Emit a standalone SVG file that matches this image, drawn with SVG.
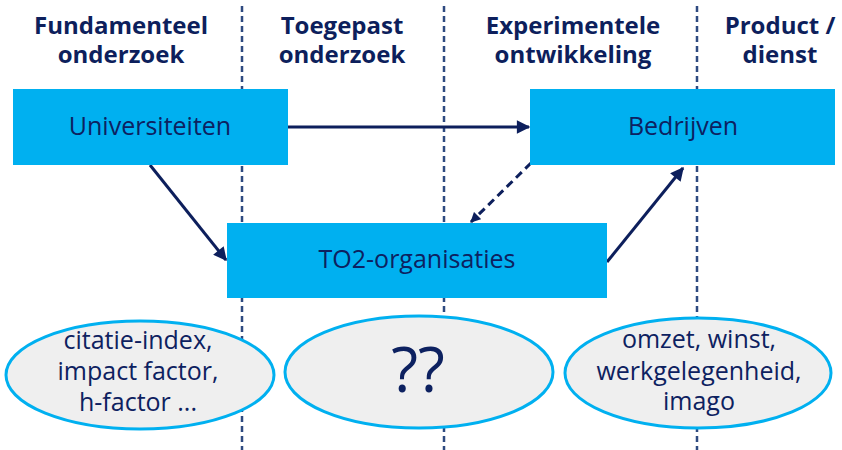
<svg xmlns="http://www.w3.org/2000/svg" width="842" height="450" viewBox="0 0 842 450">
<style>
.hdr{font-family:"Open Sans","Liberation Sans",sans-serif;font-weight:bold;font-size:24px;fill:#0D1F5C;text-anchor:middle}
.box{fill:#00B0F0}
.lbl{font-family:"Open Sans","Liberation Sans",sans-serif;font-size:25px;fill:#0D2160;text-anchor:middle}
.ell{fill:#EFEFEF;stroke:#00B0F0;stroke-width:3}
.sep{stroke:#2E4A80;stroke-width:2.5;stroke-dasharray:6,4;fill:none}
.arr{stroke:#0D1F5C;stroke-width:3;fill:none}
</style>
<defs>
<marker id="ah" viewBox="0 0 10 10" refX="9" refY="5" markerWidth="4.8" markerHeight="4.5" orient="auto" markerUnits="strokeWidth">
<path d="M0,0 L10,5 L0,10 z" fill="#0D1F5C"/>
</marker>
<marker id="ah2" viewBox="0 0 10 10" refX="9" refY="5" markerWidth="3.6" markerHeight="3.4" orient="auto" markerUnits="strokeWidth">
<path d="M0,0 L10,5 L0,10 z" fill="#0D1F5C"/>
</marker>
</defs>
<rect width="842" height="450" fill="#FFFFFF"/>
<g id="separators">
<line class="sep" x1="242" y1="6" x2="242" y2="450"/>
<line class="sep" x1="444" y1="6" x2="444" y2="450"/>
<line class="sep" x1="697" y1="6" x2="697" y2="450"/>
</g>
<g id="headers">
<text class="hdr" x="121" y="34">Fundamenteel</text>
<text class="hdr" x="121" y="63">onderzoek</text>
<text class="hdr" x="342" y="34">Toegepast</text>
<text class="hdr" x="342" y="63">onderzoek</text>
<text class="hdr" x="573" y="34">Experimentele</text>
<text class="hdr" x="573" y="63">ontwikkeling</text>
<text class="hdr" x="780" y="34">Product /</text>
<text class="hdr" x="780" y="63">dienst</text>
</g>
<g id="connectors">
<line class="arr" x1="288" y1="127" x2="529" y2="127" marker-end="url(#ah)"/>
<line class="arr" x1="150" y1="165" x2="226" y2="260" marker-end="url(#ah)"/>
<line class="arr" x1="607" y1="262" x2="683" y2="168" marker-end="url(#ah)"/>
<line class="arr" x1="531" y1="163" x2="471" y2="222" stroke-width="4.5" stroke-dasharray="8,5" marker-end="url(#ah2)"/>
</g>
<g id="universiteiten">
<rect class="box" x="13" y="89" width="275" height="76"/>
<text class="lbl" x="150" y="135">Universiteiten</text>
</g>
<g id="bedrijven">
<rect class="box" x="530" y="89" width="305" height="76"/>
<text class="lbl" x="683" y="135">Bedrijven</text>
</g>
<g id="to2">
<rect class="box" x="227" y="223" width="380" height="75"/>
<text class="lbl" x="417" y="268">TO2-organisaties</text>
</g>
<g id="metric-left">
<ellipse class="ell" cx="140" cy="375" rx="134" ry="54"/>
<text class="lbl" x="138" y="349">citatie-index,</text>
<text class="lbl" x="138" y="380">impact factor,</text>
<text class="lbl" x="138" y="411">h-factor ...</text>
</g>
<g id="metric-mid">
<ellipse class="ell" cx="419" cy="372" rx="134" ry="56"/>
<text class="lbl" x="418" y="392" style="font-size:62px">??</text>
</g>
<g id="metric-right">
<ellipse class="ell" cx="698" cy="373" rx="133" ry="55"/>
<text class="lbl" x="699" y="348">omzet, winst,</text>
<text class="lbl" x="699" y="380">werkgelegenheid,</text>
<text class="lbl" x="699" y="410">imago</text>
</g>
</svg>
